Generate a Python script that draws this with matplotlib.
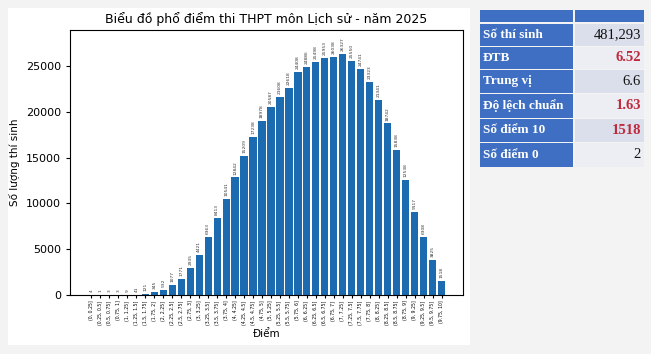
import matplotlib
matplotlib.use("Agg")
import matplotlib.pyplot as plt
from matplotlib.patches import Rectangle

bins = ["(0, 0.25]", "(0.25, 0.5]", "(0.5, 0.75]", "(0.75, 1]", "(1, 1.25]", "(1.25, 1.5]",
        "(1.5, 1.75]", "(1.75, 2]", "(2, 2.25]", "(2.25, 2.5]", "(2.5, 2.75]", "(2.75, 3]",
        "(3, 3.25]", "(3.25, 3.5]", "(3.5, 3.75]", "(3.75, 4]", "(4, 4.25]", "(4.25, 4.5]",
        "(4.5, 4.75]", "(4.75, 5]", "(5, 5.25]", "(5.25, 5.5]", "(5.5, 5.75]", "(5.75, 6]",
        "(6, 6.25]", "(6.25, 6.5]", "(6.5, 6.75]", "(6.75, 7]", "(7, 7.25]", "(7.25, 7.5]",
        "(7.5, 7.75]", "(7.75, 8]", "(8, 8.25]", "(8.25, 8.5]", "(8.5, 8.75]", "(8.75, 9]",
        "(9, 9.25]", "(9.25, 9.5]", "(9.5, 9.75]", "(9.75, 10]"]
counts = [4, 1, 3, 3, 9, 41, 121, 345, 532, 1077, 1771, 2935, 4421, 6363, 8413, 10541,
          12842, 15209, 17238, 18978, 20587, 21608, 22618, 24408, 24886, 25498, 25953,
          26038, 26327, 25550, 24741, 23323, 21341, 18742, 15838, 12538, 9117, 6308, 3825, 1518]

stat_names = ["Số thí sinh", "ĐTB", "Trung vị", "Độ lệch chuẩn", "Số điểm 10", "Số điểm 0"]
stat_values = ["481,293", "6.52", "6.6", "1.63", "1518", "2"]
stat_red = [False, True, False, True, True, False]

W, H = 651, 354
fig = plt.figure(figsize=(W / 100, H / 100), dpi=100)
fig.patch.set_facecolor("#f3f3f3")

# white panel behind chart
fig.patches.append(Rectangle((8 / W, 1 - 345 / H), (470 - 8) / W, (345 - 8) / H,
                             transform=fig.transFigure, facecolor="white", edgecolor="none", zorder=-5))

ax = fig.add_axes([70 / W, 1 - 295 / H, (463 - 70) / W, (295 - 30) / H])
ax.set_zorder(5)
x = list(range(len(counts)))
ax.bar(x, counts, width=0.8, color="#1c6ab0")
for xi, c in zip(x, counts):
    ax.text(xi, c + max(counts) * 0.012, str(c), rotation=90, ha="center", va="bottom",
            fontsize=3.2, color="#333333")
ax.set_xticks(x)
ax.set_xticklabels(bins, rotation=90, fontsize=3.3)
ax.set_ylim(0, max(counts) * 1.1)
ax.tick_params(axis="y", labelsize=8, length=3)
ax.tick_params(axis="x", length=2, pad=2)
ax.set_title("Biểu đồ phổ điểm thi THPT môn Lịch sử - năm 2025", fontsize=9, pad=5)
ax.set_ylabel("Số lượng thí sinh", fontsize=7.5)
ax.set_xlabel("Điểm", fontsize=7.5, labelpad=3)

# stats table
blue = "#3f6fc2"
x0, x1, x2 = 480, 574, 644
gap = 1.5
def rect(px0, py0, px1, py1, color):
    fig.patches.append(Rectangle((px0 / W, 1 - py1 / H), (px1 - px0) / W, (py1 - py0) / H,
                                 transform=fig.transFigure, facecolor=color, edgecolor="none", zorder=1))
rect(x0, 10, x1 - gap / 2, 22, blue)
rect(x1 + gap / 2, 10, x2, 22, blue)
row_edges = [24, 47, 70, 94, 119, 143, 168]
light = ["#dadfeb", "#eceef4"]
for i, (name, val, red) in enumerate(zip(stat_names, stat_values, stat_red)):
    top, bot = row_edges[i], row_edges[i + 1] - gap
    rect(x0, top, x1 - gap / 2, bot, blue)
    rect(x1 + gap / 2, top, x2, bot, light[i % 2])
    yc = 1 - (top + bot) / 2 / H
    fig.text((x0 + 3) / W, yc, name, ha="left", va="center", fontsize=9.5,
             family="Liberation Serif", weight="bold", color="white")
    fig.text((x2 - 3) / W, yc, val, ha="right", va="center", fontsize=10.5,
             family="Liberation Serif", weight="bold" if red else "normal",
             color="#c0283c" if red else "#111111")

fig.savefig("out.png", dpi=100, facecolor=fig.get_facecolor())
